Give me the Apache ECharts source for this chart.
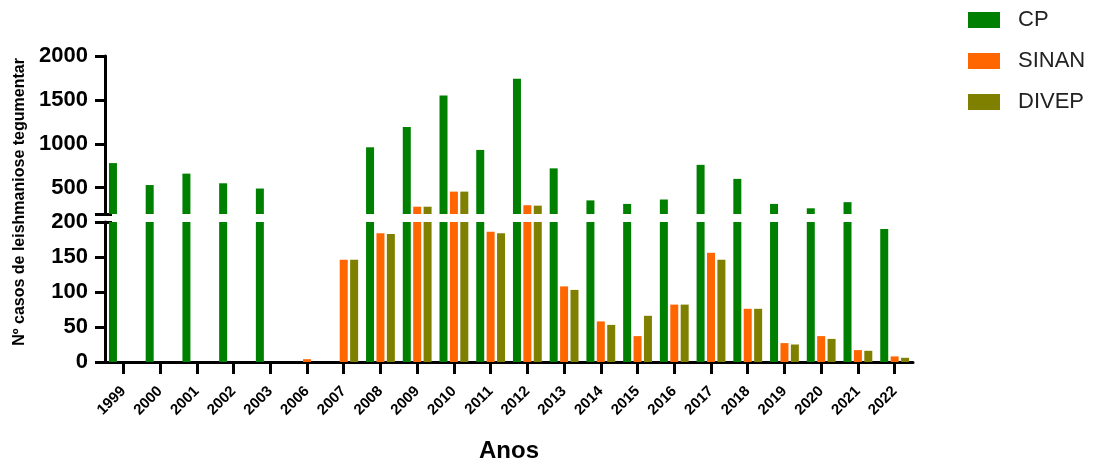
<!DOCTYPE html>
<html>
<head>
<meta charset="utf-8">
<script src="https://cdn.jsdelivr.net/npm/echarts@6/dist/echarts.min.js"></script>
<style>
html,body{margin:0;padding:0;background:#fff;}
#chart{width:1101px;height:465px;}
</style>
</head>
<body>
<div id="chart"></div>
<script>
const categories = ['1999','2000','2001','2002','2003','2006','2007','2008','2009','2010','2011','2012','2013','2014','2015','2016','2017','2018','2019','2020','2021','2022'];
const cp    = [780, 530, 660, 550, 490, null, null, 960, 1190, 1550, 930, 1740, 720, 355, 315, 365, 760, 600, 315, 265, 335, 190];
const sinan = [null, null, null, null, null, 4, 146, 184, 283, 455, 186, 300, 108, 58, 37, 82, 156, 76, 27, 37, 17, 8];
const divep = [null, null, null, null, null, null, 146, 183, 283, 455, 184, 295, 103, 53, 66, 82, 146, 76, 25, 33, 16, 6];
const upperTicks = [500, 1000, 1500, 2000];
const lowerTicks = [0, 50, 100, 150, 200];
const breakValue = 200;

const colors = {CP:'#008000', SINAN:'#FF6600', DIVEP:'#808000'};
const FONT = 'Liberation Sans, Arial, sans-serif';
const upper = arr => arr.map(v => (v != null && v > breakValue) ? v : null);

const chart = echarts.init(document.getElementById('chart'), null, {renderer:'canvas'});

const seriesDefs = [['CP', cp], ['SINAN', sinan], ['DIVEP', divep]];
const series = [];
seriesDefs.forEach(([name, data]) => {
  series.push({name, type:'bar', xAxisIndex:1, yAxisIndex:1, data, barWidth:8, barGap:'30%',
    itemStyle:{color:colors[name]}, clip:true, animation:false});
});
seriesDefs.forEach(([name, data]) => {
  series.push({name, type:'bar', xAxisIndex:0, yAxisIndex:0, data:upper(data), barWidth:8, barGap:'30%',
    itemStyle:{color:colors[name]}, clip:true, animation:false});
});

const axisLine = {show:true, lineStyle:{color:'#000', width:3}};
const yLabel = {color:'#000', fontSize:22, fontWeight:'bold', fontFamily:FONT, margin:17,
  formatter: v => String(v)};

chart.setOption({
  animation:false,
  backgroundColor:'#fff',
  legend:{
    orient:'vertical', left:968, top:9, padding:0, itemWidth:32, itemHeight:16, itemGap:19,
    icon:'rect', data:['CP','SINAN','DIVEP'],
    textStyle:{fontSize:22, fontFamily:FONT, color:'#222', padding:[0,0,0,13]}
  },
  grid:[
    {left:105, top:56, width:808, height:158, outerBoundsMode:'none', containLabel:false},
    {left:105, top:222, width:808, height:140, outerBoundsMode:'none', containLabel:false}
  ],
  xAxis:[
    {type:'category', gridIndex:0, data:categories, show:false},
    {type:'category', gridIndex:1, data:categories,
     axisLine:axisLine,
     axisTick:{show:true, alignWithLabel:true, length:12, lineStyle:{color:'#000', width:3}},
     axisLabel:{rotate:45, interval:0, color:'#000', fontSize:15, fontWeight:'bold', fontFamily:FONT, margin:27},
     name:'Anos', nameLocation:'middle', nameGap:77,
     nameTextStyle:{fontSize:24, fontWeight:'bold', fontFamily:FONT, color:'#000'}}
  ],
  yAxis:[
    {type:'value', gridIndex:0, min:breakValue, max:2000, position:'left',
     axisLine:axisLine, splitLine:{show:false},
     axisTick:{show:true, length:10, customValues:[breakValue].concat(upperTicks), lineStyle:{color:'#000', width:3}},
     axisLabel:Object.assign({customValues:upperTicks}, yLabel)},
    {type:'value', gridIndex:1, min:0, max:breakValue, interval:50, position:'left',
     axisLine:axisLine, splitLine:{show:false},
     axisTick:{show:true, length:10, customValues:lowerTicks, lineStyle:{color:'#000', width:3}},
     axisLabel:Object.assign({customValues:lowerTicks}, yLabel)},
    {type:'value', gridIndex:0, min:breakValue, max:2000, position:'left',
     axisLine:{show:false}, splitLine:{show:false}, axisLabel:{show:false},
     axisTick:{show:true, inside:true, length:7, customValues:[breakValue], lineStyle:{color:'#000', width:3}}},
    {type:'value', gridIndex:1, min:0, max:breakValue, position:'left',
     axisLine:{show:false}, splitLine:{show:false}, axisLabel:{show:false},
     axisTick:{show:true, inside:true, length:7, customValues:[breakValue], lineStyle:{color:'#000', width:3}}}
  ],
  graphic:[{
    type:'text', x:20, y:202, rotation:Math.PI/2,
    style:{text:'Nº casos de leishmaniose tegumentar', fontSize:16, fontWeight:'bold', fontFamily:FONT,
      fill:'#000', align:'center', verticalAlign:'middle', textAlign:'center', textVerticalAlign:'middle'}
  }],
  series
});
</script>
</body>
</html>
